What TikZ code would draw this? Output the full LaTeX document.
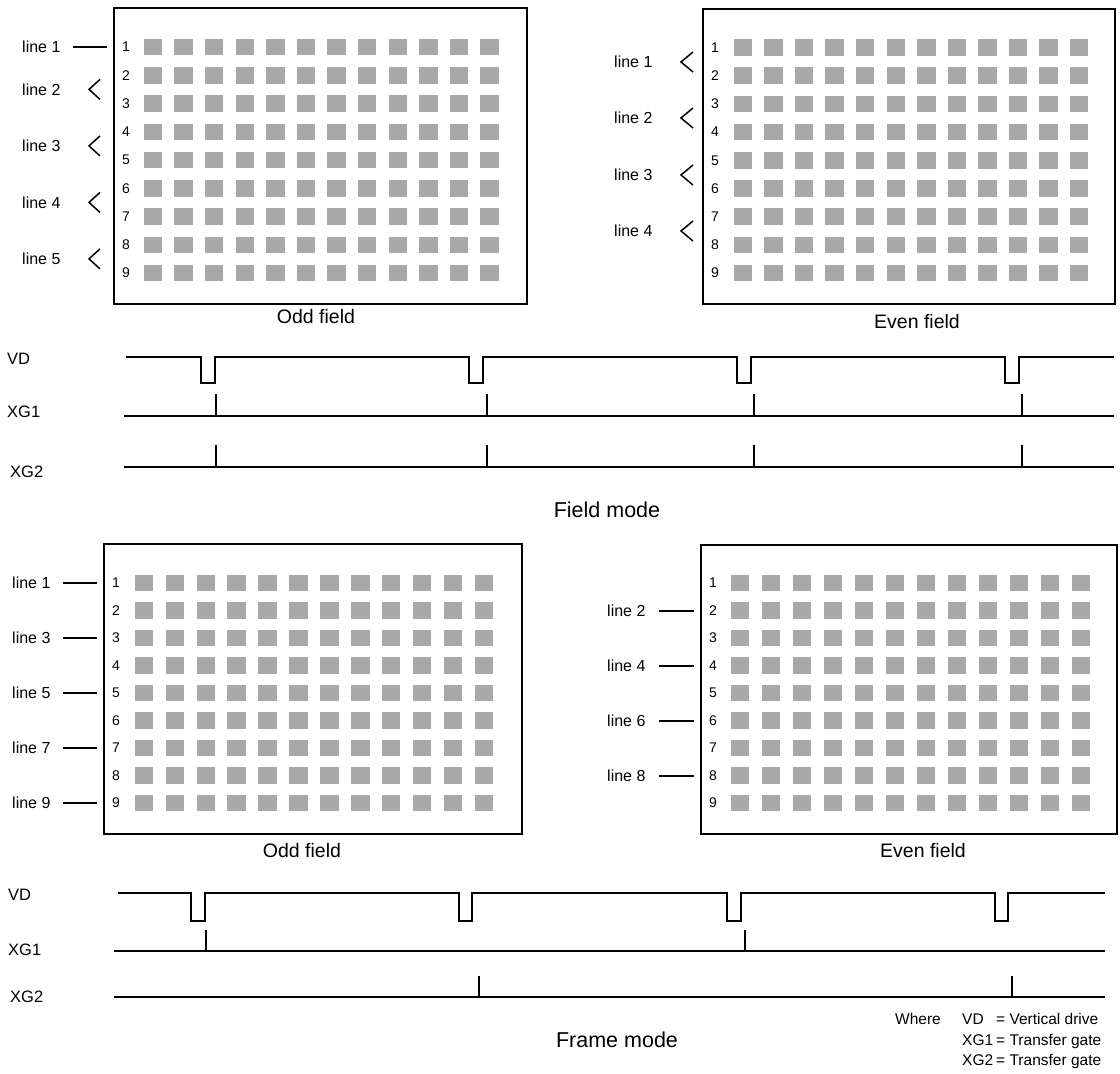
\documentclass[tikz,border=0pt]{standalone}
\usepackage{fontspec}
\setmainfont{Liberation Sans}
\definecolor{sqgray}{RGB}{168,168,168}
\begin{document}
\begin{tikzpicture}[x=1pt,y=-1pt,
  boxline/.style={line width=2pt,draw=black},
  sq/.style={fill=sqgray},
  rownum/.style={inner sep=0pt,font=\fontsize{14}{16}\selectfont},
  linelab/.style={inner sep=0pt,anchor=west,font=\fontsize{16}{19}\selectfont},
  caption/.style={inner sep=0pt,font=\fontsize{19.5}{23}\selectfont},
  modecap/.style={inner sep=0pt,font=\fontsize{21.5}{25}\selectfont},
  siglab/.style={inner sep=0pt,anchor=west,font=\fontsize{16.5}{19}\selectfont},
  seg/.style={line width=2pt},
  chev/.style={line width=1.5pt,line join=miter},
  wave/.style={line width=2pt,line join=miter},
  tick/.style={line width=1.5pt}]
\useasboundingbox[fill=white] (0,0) rectangle (1120,1074);

% ---------------- grids ----------------
\newcommand\ccdgrid[4]{%
  \foreach \r in {0,...,8}{\foreach \c in {0,...,11}{%
    \fill[sq] ({#1+\c*#2-9.25},{#3+\r*#4-8.25}) rectangle +(18.5,16.5);}}}

% ======== FIELD MODE ========
% Odd field (top-left)
\draw[boxline] (114,8) rectangle (527,304);
\ccdgrid{153}{30.6}{47}{28.25}
\foreach \r in {1,...,9}{\node[rownum] (tl\r) at (126,{47+(\r-1)*28.25}) {\r};}
\node[linelab] (tlL1) at (22,47) {line 1};
\coordinate (tlS1a) at (73,47); \coordinate (tlS1b) at (107,47);
\draw[seg] (tlS1a) -- (tlS1b);
\foreach \k/\m in {2/89.4,3/145.9,4/202.4,5/258.9}{
  \node[linelab] (tlL\k) at (22,\m) {line \k};
  \draw[chev] (100,\m-10) -- (89,\m) -- (100,\m+10);
}
\node[caption] (oddA) at (316,317) {Odd field};

% Even field (top-right)
\draw[boxline] (703,9) rectangle (1115,304);
\ccdgrid{743}{30.55}{47.5}{28.2}
\foreach \r in {1,...,9}{\node[rownum] (tr\r) at (715,{47.5+(\r-1)*28.2}) {\r};}
\foreach \k/\m in {1/62,2/118,3/175,4/231}{
  \node[linelab] (trL\k) at (614,\m) {line \k};
  \draw[chev] (693,\m-10) -- (681,\m) -- (693,\m+10);
}
\node[caption] (evenA) at (917,322) {Even field};

% Field-mode waveforms
\node[siglab] (vdA) at (7,359) {VD};
\node[siglab] (xgaA) at (7,412) {XG1};
\node[siglab] (xgbA) at (10,472) {XG2};
\coordinate (vdAs) at (126,357); \coordinate (vdAe) at (1114,357);
\draw[wave] (vdAs) -- (201,357) -- (201,383) -- (215,383) -- (215,357)
  -- (469,357) -- (469,383) -- (483,383) -- (483,357)
  -- (737,357) -- (737,383) -- (751,383) -- (751,357)
  -- (1005,357) -- (1005,383) -- (1019,383) -- (1019,357) -- (vdAe);
\coordinate (xgaAs) at (124,416); \coordinate (xgaAe) at (1114,416);
\draw[wave] (xgaAs) -- (xgaAe);
\coordinate (xgbAs) at (124,467); \coordinate (xgbAe) at (1114,467);
\draw[wave] (xgbAs) -- (xgbAe);
\foreach \t in {216,487,754,1022}{
  \draw[tick] (\t,416) -- (\t,394);
  \draw[tick] (\t,467) -- (\t,445);
}
\node[modecap] (fieldmode) at (607,510) {Field mode};

% ======== FRAME MODE ========
% Odd field (bottom-left)
\draw[boxline] (104,544) rectangle (522,834);
\ccdgrid{144}{30.9}{583}{27.5}
\foreach \r in {1,...,9}{\node[rownum] (bl\r) at (116,{583+(\r-1)*27.5}) {\r};}
\foreach \k in {1,3,5,7,9}{
  \node[linelab] (blL\k) at (12,{583+(\k-1)*27.5}) {line \k};
  \coordinate (blS\k a) at (63,{583+(\k-1)*27.5});
  \coordinate (blS\k b) at (97,{583+(\k-1)*27.5});
  \draw[seg] (blS\k a) -- (blS\k b);
}
\node[caption] (oddB) at (302,851) {Odd field};

% Even field (bottom-right)
\draw[boxline] (701,545) rectangle (1117,834);
\ccdgrid{740}{31.0}{583}{27.5}
\foreach \r in {1,...,9}{\node[rownum] (br\r) at (713,{583+(\r-1)*27.5}) {\r};}
\foreach \k in {2,4,6,8}{
  \node[linelab] (brL\k) at (607,{583+(\k-1)*27.5}) {line \k};
  \coordinate (brS\k a) at (659,{583+(\k-1)*27.5});
  \coordinate (brS\k b) at (694,{583+(\k-1)*27.5});
  \draw[seg] (brS\k a) -- (brS\k b);
}
\node[caption] (evenB) at (923,851) {Even field};

% Frame-mode waveforms
\node[siglab] (vdB) at (8,895) {VD};
\node[siglab] (xgaB) at (8,950) {XG1};
\node[siglab] (xgbB) at (10,997) {XG2};
\coordinate (vdBs) at (118,893); \coordinate (vdBe) at (1105,893);
\draw[wave] (vdBs) -- (191,893) -- (191,921) -- (205,921) -- (205,893)
  -- (459,893) -- (459,921) -- (472,921) -- (472,893)
  -- (727,893) -- (727,921) -- (741,921) -- (741,893)
  -- (995,893) -- (995,921) -- (1008,921) -- (1008,893) -- (vdBe);
\coordinate (xgaBs) at (114,951); \coordinate (xgaBe) at (1105,951);
\draw[wave] (xgaBs) -- (xgaBe);
\coordinate (xgbBs) at (114,997); \coordinate (xgbBe) at (1105,997);
\draw[wave] (xgbBs) -- (xgbBe);
\foreach \t in {206,745}{\draw[tick] (\t,951) -- (\t,930);}
\foreach \t in {479,1012}{\draw[tick] (\t,997) -- (\t,976);}
\node[modecap] (framemode) at (617,1040) {Frame mode};

% Legend
\node[inner sep=0pt,anchor=base west,font=\fontsize{15.5}{20.5}\selectfont] (where) at (895,1024.5) {Where};
\node[inner sep=0pt,anchor=base west,font=\fontsize{15.5}{20.5}\selectfont] (legend) at (962,1024.5)
  {\begin{tabular}[t]{@{}l@{\hspace{3pt}}l@{}}VD & = Vertical drive\\ XG1 & = Transfer gate\\ XG2 & = Transfer gate\end{tabular}};
\end{tikzpicture}
\end{document}
